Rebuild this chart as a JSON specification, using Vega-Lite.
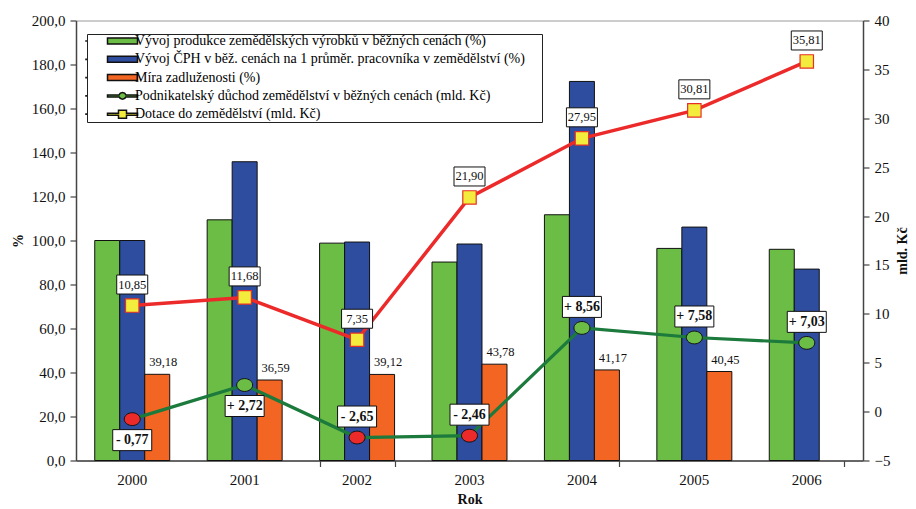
{
  "$schema": "https://vega.github.io/schema/vega-lite/v6.json",
  "width": 787,
  "height": 440,
  "autosize": {"type": "none"},
  "padding": {"left": 76, "top": 20.5, "right": 53, "bottom": 48.5},
  "background": "white",
  "config": {
    "font": "Liberation Serif",
    "locale": {"number": {"decimal": ",", "thousands": " ", "grouping": [3], "currency": ["", " Kč"]}},
    "view": {"stroke": "#9a9a9a", "strokeWidth": 1},
    "axis": {
      "labelFont": "Liberation Serif", "labelFontSize": 15, "labelColor": "#111",
      "titleFont": "Liberation Serif", "titleFontSize": 14, "titleFontWeight": "bold", "titleColor": "#111",
      "domainColor": "#444", "domainWidth": 1.5, "tickColor": "#444", "tickWidth": 1.2, "tickSize": 6, "grid": false
    }
  },
  "datasets": {
    "bars": [
      {"rok": "2000", "serie": "Vývoj produkce zemědělských výrobků v běžných cenách (%)", "hodnota": 100},
      {"rok": "2000", "serie": "Vývoj ČPH v běž. cenách na 1 průměr. pracovníka v zemědělství (%)", "hodnota": 100},
      {"rok": "2000", "serie": "Míra zadluženosti (%)", "hodnota": 39.18},
      {"rok": "2001", "serie": "Vývoj produkce zemědělských výrobků v běžných cenách (%)", "hodnota": 109.4},
      {"rok": "2001", "serie": "Vývoj ČPH v běž. cenách na 1 průměr. pracovníka v zemědělství (%)", "hodnota": 135.8},
      {"rok": "2001", "serie": "Míra zadluženosti (%)", "hodnota": 36.59},
      {"rok": "2002", "serie": "Vývoj produkce zemědělských výrobků v běžných cenách (%)", "hodnota": 98.8},
      {"rok": "2002", "serie": "Vývoj ČPH v běž. cenách na 1 průměr. pracovníka v zemědělství (%)", "hodnota": 99.3},
      {"rok": "2002", "serie": "Míra zadluženosti (%)", "hodnota": 39.12},
      {"rok": "2003", "serie": "Vývoj produkce zemědělských výrobků v běžných cenách (%)", "hodnota": 90.2},
      {"rok": "2003", "serie": "Vývoj ČPH v běž. cenách na 1 průměr. pracovníka v zemědělství (%)", "hodnota": 98.4},
      {"rok": "2003", "serie": "Míra zadluženosti (%)", "hodnota": 43.78},
      {"rok": "2004", "serie": "Vývoj produkce zemědělských výrobků v běžných cenách (%)", "hodnota": 111.7},
      {"rok": "2004", "serie": "Vývoj ČPH v běž. cenách na 1 průměr. pracovníka v zemědělství (%)", "hodnota": 172.3},
      {"rok": "2004", "serie": "Míra zadluženosti (%)", "hodnota": 41.17},
      {"rok": "2005", "serie": "Vývoj produkce zemědělských výrobků v běžných cenách (%)", "hodnota": 96.4},
      {"rok": "2005", "serie": "Vývoj ČPH v běž. cenách na 1 průměr. pracovníka v zemědělství (%)", "hodnota": 106.1},
      {"rok": "2005", "serie": "Míra zadluženosti (%)", "hodnota": 40.45},
      {"rok": "2006", "serie": "Vývoj produkce zemědělských výrobků v běžných cenách (%)", "hodnota": 96.0},
      {"rok": "2006", "serie": "Vývoj ČPH v běž. cenách na 1 průměr. pracovníka v zemědělství (%)", "hodnota": 87.0}
    ],
    "lines": [
      {"rok": "2000", "serie": "Podnikatelský důchod zemědělství v běžných cenách (mld. Kč)", "hodnota": -0.77},
      {"rok": "2001", "serie": "Podnikatelský důchod zemědělství v běžných cenách (mld. Kč)", "hodnota": 2.72},
      {"rok": "2002", "serie": "Podnikatelský důchod zemědělství v běžných cenách (mld. Kč)", "hodnota": -2.65},
      {"rok": "2003", "serie": "Podnikatelský důchod zemědělství v běžných cenách (mld. Kč)", "hodnota": -2.46},
      {"rok": "2004", "serie": "Podnikatelský důchod zemědělství v běžných cenách (mld. Kč)", "hodnota": 8.56},
      {"rok": "2005", "serie": "Podnikatelský důchod zemědělství v běžných cenách (mld. Kč)", "hodnota": 7.58},
      {"rok": "2006", "serie": "Podnikatelský důchod zemědělství v běžných cenách (mld. Kč)", "hodnota": 7.03},
      {"rok": "2000", "serie": "Dotace do zemědělství (mld. Kč)", "hodnota": 10.85},
      {"rok": "2001", "serie": "Dotace do zemědělství (mld. Kč)", "hodnota": 11.68},
      {"rok": "2002", "serie": "Dotace do zemědělství (mld. Kč)", "hodnota": 7.35},
      {"rok": "2003", "serie": "Dotace do zemědělství (mld. Kč)", "hodnota": 21.90},
      {"rok": "2004", "serie": "Dotace do zemědělství (mld. Kč)", "hodnota": 27.95},
      {"rok": "2005", "serie": "Dotace do zemědělství (mld. Kč)", "hodnota": 30.81},
      {"rok": "2006", "serie": "Dotace do zemědělství (mld. Kč)", "hodnota": 35.81}
    ]
  },
  "layer": [
    {
      "data": {"name": "bars"},
      "layer": [
        {
          "mark": {"type": "bar", "stroke": "#111", "strokeWidth": 1},
          "encoding": {
            "x": {
              "field": "rok", "type": "nominal",
              "scale": {"paddingInner": 0.333, "paddingOuter": 0.1667},
              "axis": {
                "title": "Rok", "labelAngle": 0, "ticks": false,
                "labelPadding": 12, "titlePadding": 5
              }
            },
            "xOffset": {
              "field": "serie", "type": "nominal",
              "scale": {"domain": ["Vývoj produkce zemědělských výrobků v běžných cenách (%)", "Vývoj ČPH v běž. cenách na 1 průměr. pracovníka v zemědělství (%)", "Míra zadluženosti (%)"], "paddingInner": 0, "paddingOuter": 0}
            },
            "y": {
              "field": "hodnota", "type": "quantitative",
              "scale": {"domain": [0, 200], "nice": false},
              "axis": {"title": "%", "format": ".1f", "values": [0, 20, 40, 60, 80, 100, 120, 140, 160, 180, 200], "labelPadding": 5, "titlePadding": 6}
            },
            "color": {
              "field": "serie", "type": "nominal",
              "scale": {
                "domain": ["Vývoj produkce zemědělských výrobků v běžných cenách (%)", "Vývoj ČPH v běž. cenách na 1 průměr. pracovníka v zemědělství (%)", "Míra zadluženosti (%)", "Podnikatelský důchod zemědělství v běžných cenách (mld. Kč)", "Dotace do zemědělství (mld. Kč)"],
                "range": ["#6cbd45", "#2e4d9e", "#f26522", "#6cbd45", "#f4ec3c"]
              },
              "legend": {
                "orient": "none", "legendX": 11, "legendY": 13.5,
                "title": "\u00a0", "titleOrient": "right", "titlePadding": 17, "titleFontSize": 6,
                "strokeColor": "#222", "fillColor": "white", "padding": 0,
                "labelFont": "Liberation Serif", "labelFontSize": 14, "labelColor": "#000", "labelLimit": 800,
                "symbolSize": 100, "rowPadding": 4.3, "labelOffset": 34,
                "encode": {
                  "symbols": {
                    "stroke": {"value": {"expr": "['#111','#111','#111','#1b7a3c','#ec2a2a'][datum.index]"}},
                    "strokeWidth": {"value": 1.3},
                    "opacity": {"value": 1}
                  }
                }
              }
            }
          }
        },
        {
          "transform": [{"filter": "false"}],
          "mark": {"type": "point", "filled": true, "opacity": 1},
          "encoding": {
            "x": {"field": "rok", "type": "nominal"},
            "y": {"field": "hodnota", "type": "quantitative"},
            "shape": {
              "field": "serie", "type": "nominal",
              "scale": {
                "domain": ["Vývoj produkce zemědělských výrobků v běžných cenách (%)", "Vývoj ČPH v běž. cenách na 1 průměr. pracovníka v zemědělství (%)", "Míra zadluženosti (%)", "Podnikatelský důchod zemědělství v běžných cenách (mld. Kč)", "Dotace do zemědělství (mld. Kč)"],
                "range": ["M-1.6,-0.02h0.04v0.04h-0.04ZM2.7,-0.6H8.7V0.6H2.7Z", "M-1.6,-0.02h0.04v0.04h-0.04ZM2.7,-0.6H8.7V0.6H2.7Z", "M-1.6,-0.02h0.04v0.04h-0.04ZM2.7,-0.6H8.7V0.6H2.7Z", "M-1.6,-0.02h0.04v0.04h-0.04ZM2.7,-0.2H5.01A0.75,0.75 0 0 1 6.39,-0.2H8.7V0.2H6.39A0.75,0.75 0 0 1 5.01,0.2H2.7Z", "M-1.6,-0.02h0.04v0.04h-0.04ZM2.7,-0.2H4.9V-0.8H6.5V-0.2H8.7V0.2H6.5V0.8H4.9V0.2H2.7Z"]
              }
            }
          }
        },
        {
          "transform": [
            {"filter": "datum.serie == 'Míra zadluženosti (%)'"},
            {"calculate": "replace(format(datum.hodnota, '.2f'), '.', ',')", "as": "popis"}
          ],
          "mark": {"type": "text", "fontSize": 12.5, "font": "Liberation Serif", "color": "#111", "dx": 6, "dy": -8, "baseline": "alphabetic", "align": "center"},
          "encoding": {
            "x": {"field": "rok", "type": "nominal"},
            "xOffset": {"field": "serie", "type": "nominal"},
            "y": {"field": "hodnota", "type": "quantitative"},
            "text": {"field": "popis"}
          }
        }
      ]
    },
    {
      "data": {"name": "lines"},
      "transform": [
        {"calculate": "datum.serie == 'Dotace do zemědělství (mld. Kč)' ? replace(format(datum.hodnota, '.2f'), '.', ',') : ((datum.hodnota < 0 ? '- ' : '+ ') + replace(format(abs(datum.hodnota), '.2f'), '.', ','))", "as": "popis"}
      ],
      "layer": [
        {
          "transform": [{"filter": "datum.serie == 'Podnikatelský důchod zemědělství v běžných cenách (mld. Kč)'"}],
          "mark": {"type": "line", "strokeWidth": 3.2, "color": "#1b7a3c"},
          "encoding": {
            "x": {
              "field": "rok", "type": "nominal",
              "axis": {"orient": "top", "offset": -440, "values": ["2002", "2004", "2006"], "tickBand": "extent", "tickSize": -6, "labels": false, "domain": false, "title": null}
            },
            "y": {
              "field": "hodnota", "type": "quantitative",
              "scale": {"domain": [-5, 40], "nice": false},
              "axis": {"orient": "right", "title": "mld. Kč", "titleAngle": 270, "titleBaseline": "top", "titleY": 230, "format": "d", "values": [-5, 0, 5, 10, 15, 20, 25, 30, 35, 40], "labelPadding": 5, "titlePadding": 6}
            }
          }
        },
        {
          "transform": [{"filter": "datum.serie == 'Dotace do zemědělství (mld. Kč)'"}],
          "mark": {"type": "line", "strokeWidth": 3.5, "color": "#ec2a2a"},
          "encoding": {
            "x": {"field": "rok", "type": "nominal"},
            "y": {"field": "hodnota", "type": "quantitative"}
          }
        },
        {
          "transform": [{"filter": "datum.serie == 'Dotace do zemědělství (mld. Kč)'"}],
          "mark": {"type": "point", "shape": "square", "size": 180, "filled": true, "fill": "#f4ec3c", "stroke": "#e53027", "strokeWidth": 1.2, "opacity": 1},
          "encoding": {
            "x": {"field": "rok", "type": "nominal"},
            "y": {"field": "hodnota", "type": "quantitative"}
          }
        },
        {
          "transform": [{"filter": "datum.serie == 'Podnikatelský důchod zemědělství v běžných cenách (mld. Kč)'"}],
          "mark": {"type": "point", "shape": "M-1,0A1,0.8 0 1 1 1,0A1,0.8 0 1 1 -1,0Z", "size": 256, "filled": true, "stroke": "#111", "strokeWidth": 1, "opacity": 1},
          "encoding": {
            "x": {"field": "rok", "type": "nominal"},
            "y": {"field": "hodnota", "type": "quantitative"},
            "fill": {"condition": {"test": "datum.hodnota < 0", "value": "#ec2a2a"}, "value": "#6cbd45"}
          }
        },
        {
          "transform": [{"filter": "datum.serie == 'Dotace do zemědělství (mld. Kč)'"}],
          "mark": {"type": "point", "shape": "M-1.55,-3.05H1.55V-1.15H-1.55Z", "size": 400, "filled": true, "fill": "white", "stroke": "#111", "strokeWidth": 1, "opacity": 1},
          "encoding": {
            "x": {"field": "rok", "type": "nominal"},
            "y": {"field": "hodnota", "type": "quantitative"}
          }
        },
        {
          "transform": [{"filter": "datum.serie == 'Podnikatelský důchod zemědělství v běžných cenách (mld. Kč)' && datum.rok != '2000' && datum.rok != '2001'"}],
          "mark": {"type": "point", "shape": "M-1.95,-3.15H1.95V-1.05H-1.95Z", "size": 400, "filled": true, "fill": "white", "stroke": "#111", "strokeWidth": 1, "opacity": 1},
          "encoding": {
            "x": {"field": "rok", "type": "nominal"},
            "y": {"field": "hodnota", "type": "quantitative"}
          }
        },
        {
          "transform": [{"filter": "datum.serie == 'Podnikatelský důchod zemědělství v běžných cenách (mld. Kč)' && (datum.rok == '2000' || datum.rok == '2001')"}],
          "mark": {"type": "point", "shape": "M-1.95,1.05H1.95V3.15H-1.95Z", "size": 400, "filled": true, "fill": "white", "stroke": "#111", "strokeWidth": 1, "opacity": 1},
          "encoding": {
            "x": {"field": "rok", "type": "nominal"},
            "y": {"field": "hodnota", "type": "quantitative"}
          }
        },
        {
          "transform": [{"filter": "datum.serie == 'Dotace do zemědělství (mld. Kč)'"}],
          "mark": {"type": "text", "fontSize": 12.5, "font": "Liberation Serif", "color": "#111", "dy": -21, "baseline": "middle", "align": "center"},
          "encoding": {
            "x": {"field": "rok", "type": "nominal"},
            "y": {"field": "hodnota", "type": "quantitative"},
            "text": {"field": "popis"}
          }
        },
        {
          "transform": [{"filter": "datum.serie == 'Podnikatelský důchod zemědělství v běžných cenách (mld. Kč)' && datum.rok != '2000' && datum.rok != '2001'"}],
          "mark": {"type": "text", "fontSize": 14, "fontWeight": "bold", "font": "Liberation Serif", "color": "#111", "dy": -21, "baseline": "middle", "align": "center"},
          "encoding": {
            "x": {"field": "rok", "type": "nominal"},
            "y": {"field": "hodnota", "type": "quantitative"},
            "text": {"field": "popis"}
          }
        },
        {
          "transform": [{"filter": "datum.serie == 'Podnikatelský důchod zemědělství v běžných cenách (mld. Kč)' && (datum.rok == '2000' || datum.rok == '2001')"}],
          "mark": {"type": "text", "fontSize": 14, "fontWeight": "bold", "font": "Liberation Serif", "color": "#111", "dy": 21, "baseline": "middle", "align": "center"},
          "encoding": {
            "x": {"field": "rok", "type": "nominal"},
            "y": {"field": "hodnota", "type": "quantitative"},
            "text": {"field": "popis"}
          }
        }
      ]
    }
  ],
  "resolve": {"scale": {"y": "independent"}, "axis": {"x": "independent"}}
}
